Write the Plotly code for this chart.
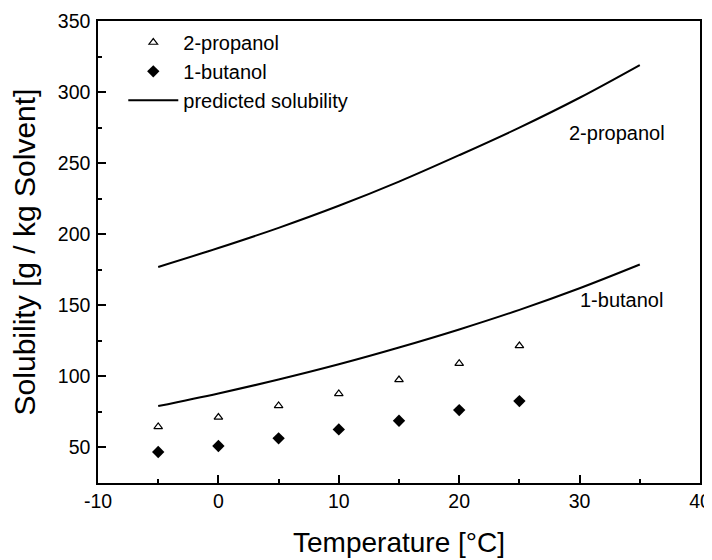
import plotly.graph_objects as go

# Experimental data
T_exp = [-5, 0, 5, 10, 15, 20, 25]
propanol_exp = [64.6, 71.2, 79.4, 87.8, 97.6, 109.1, 121.5]
butanol_exp = [46.8, 51.0, 56.4, 62.7, 68.8, 76.3, 82.6]

# Predicted solubility curves
T_pred = [-5, 0, 5, 10, 15, 20, 25, 30, 35]
propanol_pred = [177.0, 190.3, 204.5, 220.0, 237.0, 255.6, 275.0, 296.0, 319.0]
butanol_pred = [79.1, 88.0, 97.8, 108.5, 120.3, 133.0, 146.8, 162.0, 178.7]

# Tick labels
x_ticks = [-10, 0, 10, 20, 30, 40]
x_ticklabels = ["-10", "0", "10", "20", "30", "40"]
y_ticks = [50, 100, 150, 200, 250, 300, 350]

FONT = "Arial, Liberation Sans, sans-serif"

fig = go.Figure()
fig.add_trace(go.Scatter(
    x=T_exp, y=propanol_exp, mode="markers", name="2-propanol",
    marker=dict(symbol="triangle-up-open", size=7.5, color="black", line=dict(width=1.2, color="black")),
))
fig.add_trace(go.Scatter(
    x=T_exp, y=butanol_exp, mode="markers", name="1-butanol",
    marker=dict(symbol="diamond", size=9.5, color="black"),
))
fig.add_trace(go.Scatter(
    x=T_pred, y=propanol_pred, mode="lines", name="predicted solubility",
    line=dict(color="black", width=2, shape="spline", smoothing=1.0),
))
fig.add_trace(go.Scatter(
    x=T_pred, y=butanol_pred, mode="lines", name="predicted solubility",
    line=dict(color="black", width=2, shape="spline", smoothing=1.0), showlegend=False,
))

fig.add_annotation(x=33.1, y=271, text="2-propanol", showarrow=False,
                   font=dict(family=FONT, size=20, color="black"))
fig.add_annotation(x=33.5, y=153.6, text="1-butanol", showarrow=False,
                   font=dict(family=FONT, size=20, color="black"))

axis_common = dict(
    showline=True, linecolor="black", linewidth=1.5, mirror=True,
    ticks="inside", ticklen=8, tickwidth=1.5, tickcolor="black",
    showgrid=False, zeroline=False, automargin=False,
    tickfont=dict(family=FONT, size=19.5, color="black"),
)

fig.update_xaxes(
    range=[-10, 40], tickmode="array", tickvals=x_ticks, ticktext=x_ticklabels,
    minor=dict(dtick=5, tick0=0, ticks="inside", ticklen=4, tickwidth=1.5, tickcolor="black"),
    title=dict(text="Temperature [°C]", font=dict(family=FONT, size=28, color="black"), standoff=21),
    **axis_common,
)
fig.update_yaxes(
    range=[25, 350], tickmode="array", tickvals=y_ticks, ticklabelstandoff=2,
    minor=dict(dtick=25, tick0=0, ticks="inside", ticklen=4, tickwidth=1.5, tickcolor="black"),
    title=dict(text="Solubility [g / kg Solvent]", font=dict(family=FONT, size=30, color="black"), standoff=21),
    **axis_common,
)

fig.update_layout(
    width=704, height=552,
    margin=dict(l=90, r=12, t=13, b=77, autoexpand=False),
    paper_bgcolor="white", plot_bgcolor="white",
    font=dict(family=FONT, color="black"),
    legend=dict(x=0.042, y=0.996, xanchor="left", yanchor="top",
                bgcolor="rgba(0,0,0,0)", font=dict(family=FONT, size=20, color="black"),
                itemwidth=50, tracegroupgap=0),
)

fig.write_html("out.html")
